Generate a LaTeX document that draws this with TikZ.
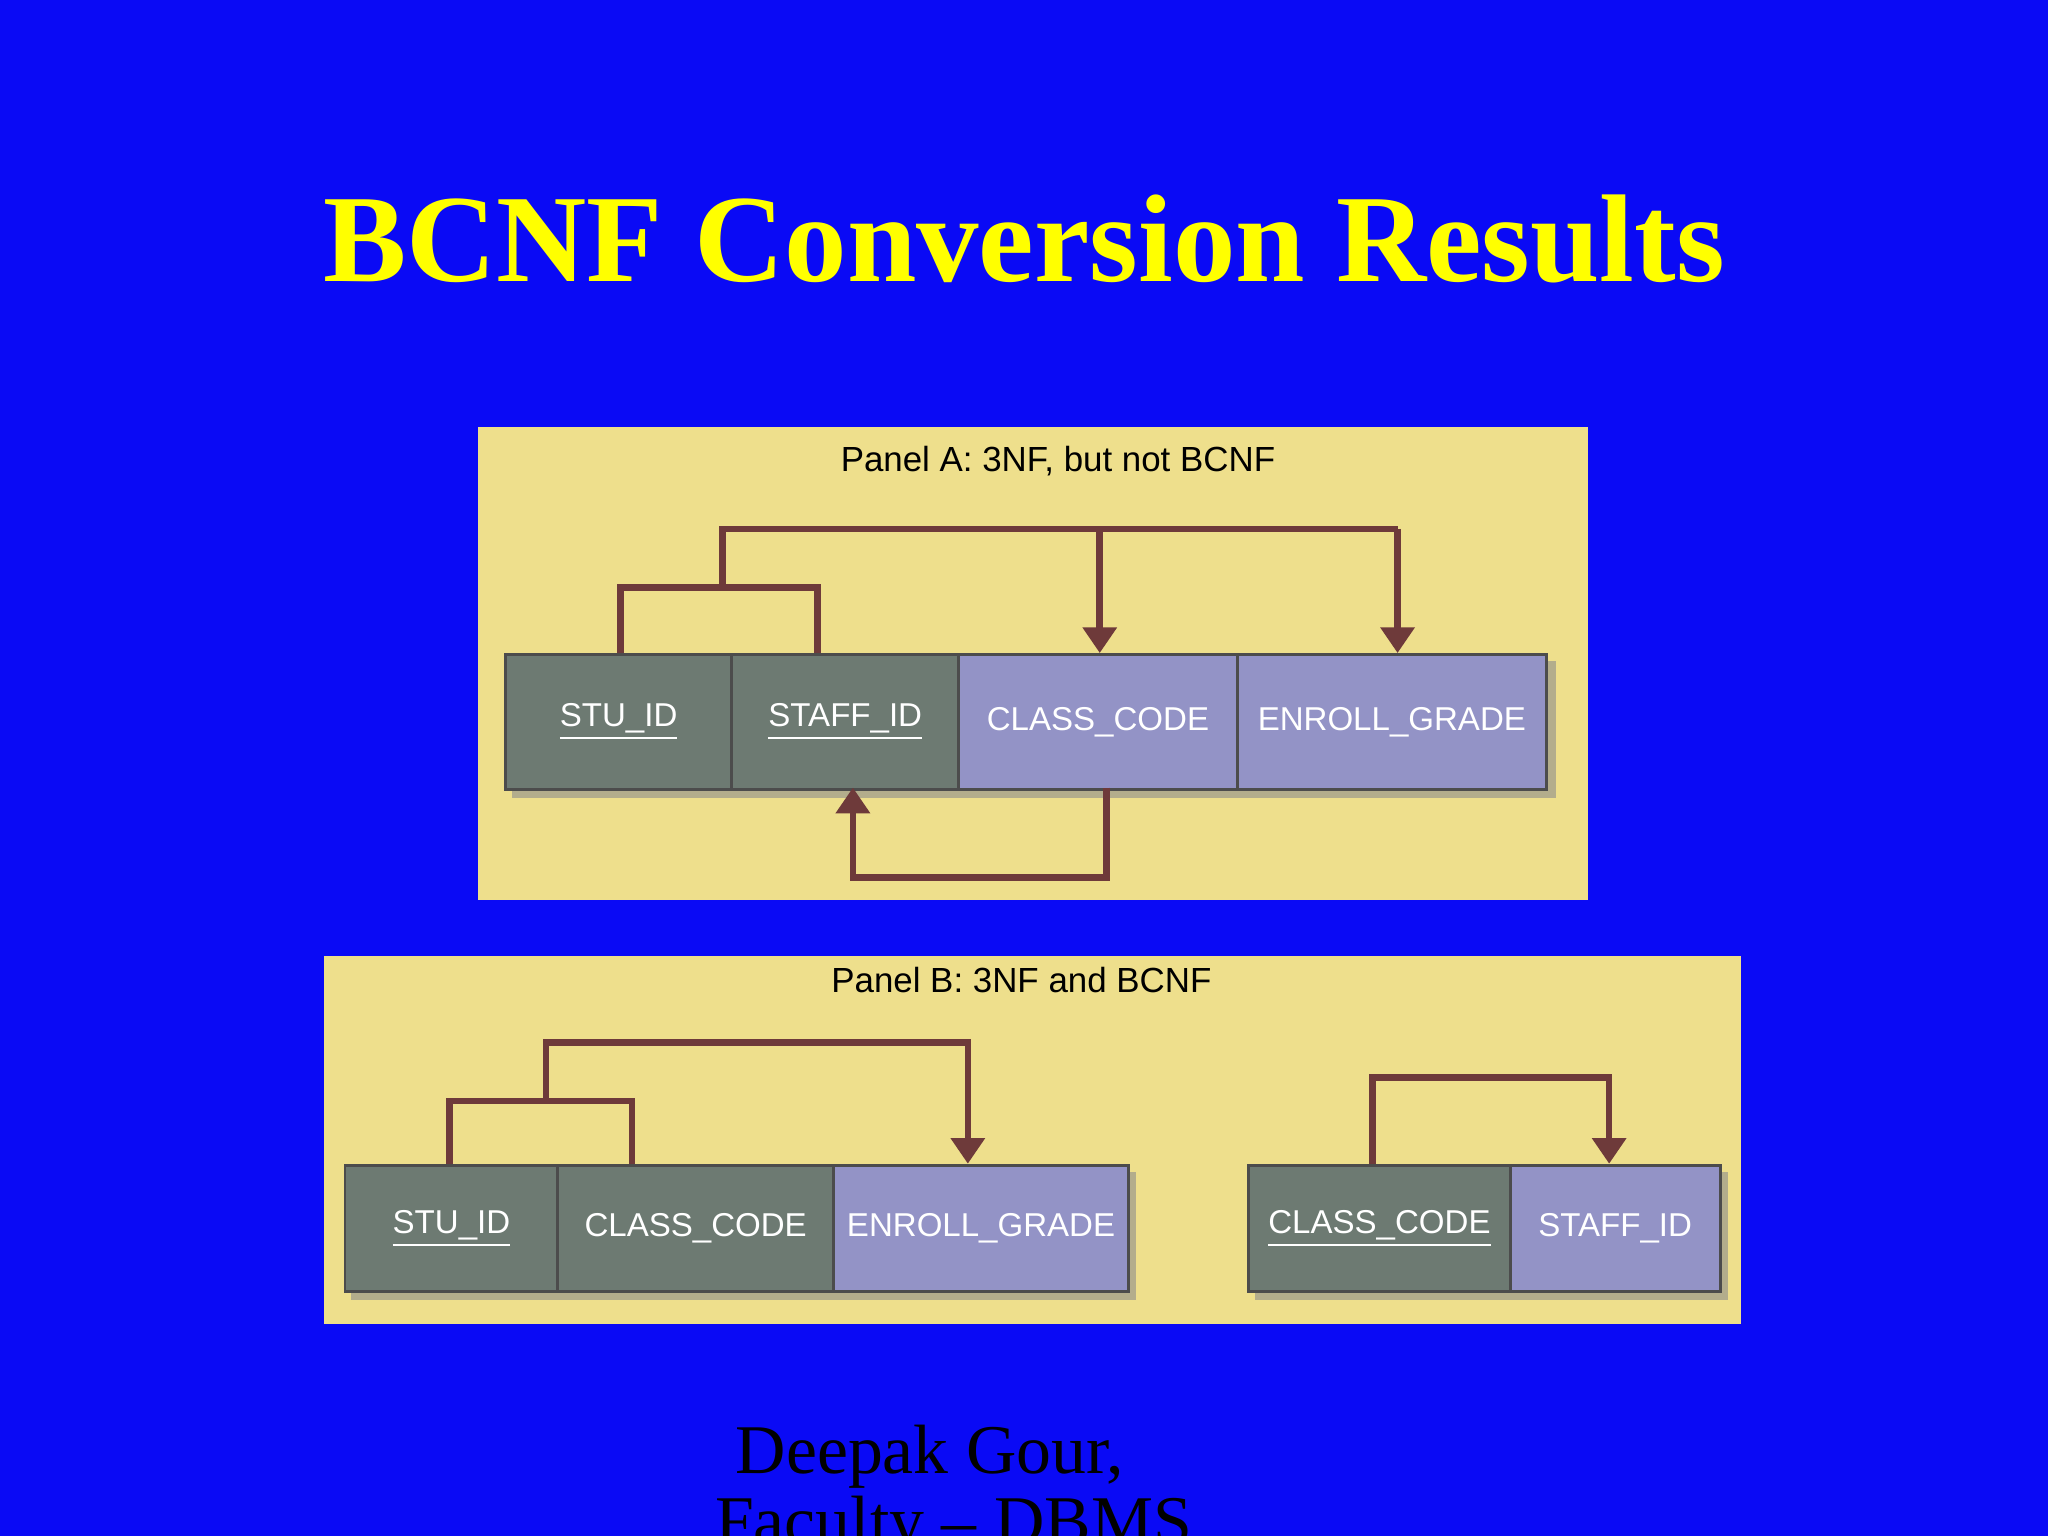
\documentclass[tikz,border=0pt]{standalone}
\usepackage{fontspec}
\setmainfont{Liberation Serif}
\newfontfamily\panelfont{Liberation Sans}
\usetikzlibrary{arrows.meta}
\definecolor{bg}{HTML}{0A0AF5}
\definecolor{ttl}{HTML}{FFFF00}
\definecolor{pan}{HTML}{EEDF8C}
\definecolor{keyc}{HTML}{6D7A72}
\definecolor{attc}{HTML}{9393C6}
\definecolor{arr}{HTML}{6E3A3A}
\tikzset{
 cell/.style={draw=black!70, line width=0.8pt, minimum height=103*0.125mm, inner sep=0pt, text=white, font=\panelfont\fontsize{9}{9}\selectfont, anchor=north west},
 keycell/.style={cell, fill=keyc},
 attcell/.style={cell, fill=attc},
 dep/.style={draw=arr, line width=1.8pt},
 deparr/.style={dep, -{Triangle[length=7pt,width=9pt]}},
 ptitle/.style={font=\panelfont\fontsize{9.5}{10}\selectfont, text=black},
 shad/.style={fill=black!45, opacity=0.6}
}
\newcommand{\ul}[1]{\underline{#1}}
\begin{document}
\begin{tikzpicture}[x=0.125mm,y=-0.125mm]
\fill[bg] (0,0) rectangle (1568,1176);
\useasboundingbox (0,0) rectangle (1568,1176);
\node[text=ttl, font=\bfseries\fontsize{34}{38}\selectfont] (title) at (784,183) {BCNF Conversion Results};
% Panel A
\fill[pan] (366,327) rectangle (1216,689);
\node[ptitle] (pa) at (810,353) {Panel A: 3NF, but not BCNF};
\fill[shad] (392,506) rectangle (1191,611);
\node[keycell, minimum width=173*0.125mm] (a1) at (386,500) {\ul{STU\_ID}};
\node[keycell, minimum width=174*0.125mm] (a2) at (559,500) {\ul{STAFF\_ID}};
\node[attcell, minimum width=213*0.125mm] (a3) at (733,500) {CLASS\_CODE};
\node[attcell, minimum width=237*0.125mm] (a4) at (946,500) {ENROLL\_GRADE};
\coordinate (ka1) at (475,500); \coordinate (ka2) at (626,500);
\coordinate (ta3) at (842,500); \coordinate (ta4) at (1070,500);
\draw[dep] (ka1) -- (475,450) -- (626,450) -- (ka2);
\draw[dep] (553,450) -- (553,405) -- (1070,405);
\draw[deparr] (842,405) -- (ta3);
\draw[deparr] (1070,405) -- (ta4);
\coordinate (ba3) at (847,603); \coordinate (ba2) at (653,603);
\draw[deparr] (ba3) -- (847,672) -- (653,672) -- (ba2);
% Panel B
\fill[pan] (248,732) rectangle (1333,1014);
\node[ptitle] (pb) at (782,750) {Panel B: 3NF and BCNF};
\fill[shad] (269,897) rectangle (870,995);
\fill[shad] (961,897) rectangle (1323,995);
\node[keycell, minimum width=163*0.125mm, minimum height=97*0.125mm] (b1) at (263,891) {\ul{STU\_ID}};
\node[keycell, minimum width=211*0.125mm, minimum height=97*0.125mm] (b2) at (426,891) {CLASS\_CODE};
\node[attcell, minimum width=226*0.125mm, minimum height=97*0.125mm] (b3) at (637,891) {ENROLL\_GRADE};
\node[keycell, minimum width=200*0.125mm, minimum height=97*0.125mm] (c1) at (955,891) {\ul{CLASS\_CODE}};
\node[attcell, minimum width=161*0.125mm, minimum height=97*0.125mm] (c2) at (1155,891) {STAFF\_ID};
\coordinate (kb1) at (344,891); \coordinate (kb2) at (484,891); \coordinate (tb3) at (741,891);
\draw[dep] (kb1) -- (344,843) -- (484,843) -- (kb2);
\draw[deparr] (418,843) -- (418,798) -- (741,798) -- (tb3);
\coordinate (kc1) at (1051,891); \coordinate (tc2) at (1232,891);
\draw[deparr] (kc1) -- (1051,825) -- (1232,825) -- (tc2);
% footer
\node[font=\fontsize{19}{21}\selectfont, text=black] (f1) at (712,1115) {Deepak Gour,};
\node[font=\fontsize{19}{21}\selectfont, text=black] (f2) at (730,1170) {Faculty – DBMS};
\end{tikzpicture}
\end{document}
